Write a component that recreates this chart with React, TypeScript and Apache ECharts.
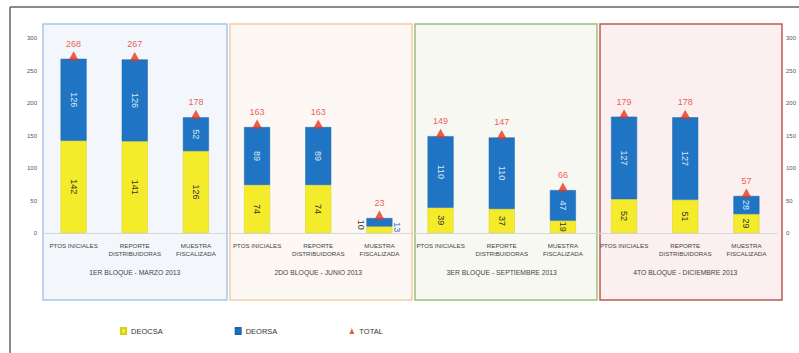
import React, { useEffect, useRef } from "react";
import * as echarts from "echarts";

const categories = [
  "PTOS INICIALES", "REPORTE\nDISTRIBUIDORAS", "MUESTRA\nFISCALIZADA",
  "PTOS INICIALES", "REPORTE\nDISTRIBUIDORAS", "MUESTRA\nFISCALIZADA",
  "PTOS INICIALES", "REPORTE\nDISTRIBUIDORAS", "MUESTRA\nFISCALIZADA",
  "PTOS INICIALES", "REPORTE\nDISTRIBUIDORAS", "MUESTRA\nFISCALIZADA",
];
const groups = [
  "1ER BLOQUE - MARZO 2013",
  "2DO BLOQUE - JUNIO 2013",
  "3ER BLOQUE - SEPTIEMBRE 2013",
  "4TO BLOQUE - DICIEMBRE 2013",
];
const deocsa = [142, 141, 126, 74, 74, 10, 39, 37, 19, 52, 51, 29];
const deorsa = [126, 126, 52, 89, 89, 13, 110, 110, 47, 127, 127, 28];
const total = [268, 267, 178, 163, 163, 23, 149, 147, 66, 179, 178, 57];

const FONT = "'Liberation Sans Narrow', 'Arial Narrow', 'Liberation Sans', sans-serif";

const panels = [
  { fill: "#f3f7fc", stroke: "#a8c6ea" },
  { fill: "#fdf8f3", stroke: "#f5cba9" },
  { fill: "#f7f8f2", stroke: "#9dbd7b" },
  { fill: "#fcefef", stroke: "#bd5a55" },
];

export default function App() {
  const ref = useRef<HTMLDivElement>(null);
  useEffect(() => {
    if (!ref.current) return;
    const chart = echarts.init(ref.current, undefined, { renderer: "svg" });
    const gridLeft = 43;
    const gridRight = 16;
    const panelW = (799 - gridLeft - gridRight) / 4;
    const graphics: any[] = panels.map((p, i) => ({
      type: "rect",
      z: -10,
      silent: true,
      shape: { x: gridLeft + i * panelW + (i === 0 ? 0 : 2), y: 24, width: panelW - (i === 0 ? 1 : 3), height: 276 },
      style: { fill: p.fill, stroke: p.stroke, lineWidth: 1.5 },
    }));
    graphics.push(
      { type: "line", z: -5, silent: true, shape: { x1: 10, y1: 7, x2: 799, y2: 7 }, style: { stroke: "#666", lineWidth: 1.5 } },
      { type: "line", z: -5, silent: true, shape: { x1: 10, y1: 7, x2: 10, y2: 353 }, style: { stroke: "#666", lineWidth: 1.5 } }
    );

    const deocsaData = deocsa.map((v, i) =>
      i === 5
        ? { value: v, label: { position: "left", distance: 5, rotate: -90, color: "#333" } }
        : v
    );
    const deorsaData = deorsa.map((v, i) =>
      i === 5
        ? { value: v, label: { position: "right", distance: 5, rotate: -90, color: "#1f75c4" } }
        : v
    );

    chart.setOption({
      animation: false,
      backgroundColor: "#ffffff",
      textStyle: { fontFamily: FONT },
      graphic: graphics,
      legend: {
        left: 115,
        top: 322,
        itemWidth: 5,
        itemHeight: 6,
        itemGap: 72,
        textStyle: { fontSize: 7.5, color: "#333", fontFamily: FONT },
        data: [
          { name: "DEOCSA", icon: "rect" },
          { name: "DEORSA", icon: "rect" },
          { name: "TOTAL", icon: "triangle" },
        ],
      },
      grid: { left: gridLeft, right: gridRight, top: 38, bottom: 120 },
      xAxis: [
        {
          type: "category",
          data: categories,
          axisLine: { lineStyle: { color: "#d6d6d6" } },
          axisTick: { interval: 0, length: 27, lineStyle: { color: "#d6d6d6" } },
          axisLabel: { interval: 0, fontSize: 6.2, lineHeight: 8, margin: 8, color: "#444", fontFamily: FONT },
        },
        {
          type: "category",
          position: "bottom",
          offset: 34,
          data: groups,
          axisLine: { show: false },
          axisTick: { show: false },
          axisLabel: { interval: 0, fontSize: 6.8, color: "#444", margin: 2, fontFamily: FONT },
        },
      ],
      yAxis: [
        {
          type: "value",
          min: 0,
          max: 300,
          interval: 50,
          axisLine: { show: false },
          axisTick: { show: false },
          splitLine: { show: false },
          axisLabel: { fontSize: 6, color: "#555", margin: 6, fontFamily: FONT },
        },
        {
          type: "value",
          min: 0,
          max: 300,
          interval: 50,
          position: "right",
          axisLine: { show: false },
          axisTick: { show: false },
          splitLine: { show: false },
          axisLabel: { fontSize: 6, color: "#555", margin: 9, fontFamily: FONT },
        },
      ],
      series: [
        {
          name: "DEOCSA",
          type: "bar",
          stack: "a",
          barWidth: 26,
          data: deocsaData,
          itemStyle: { color: "#f4ec2a", borderColor: "#d8cf1c", borderWidth: 0.5 },
          label: { show: true, position: "inside", rotate: -90, fontSize: 9, color: "#333", fontFamily: FONT },
        },
        {
          name: "DEORSA",
          type: "bar",
          stack: "a",
          barWidth: 26,
          data: deorsaData,
          itemStyle: { color: "#1f75c4", borderColor: "#1a66ad", borderWidth: 0.5 },
          label: { show: true, position: "inside", rotate: -90, fontSize: 9, color: "#dde8f4", fontFamily: FONT },
        },
        {
          name: "TOTAL",
          type: "scatter",
          data: total,
          symbol: "triangle",
          symbolSize: [10, 9],
          symbolOffset: [0, -3],
          z: 5,
          itemStyle: { color: "#e5361f" },
          label: { show: true, position: "top", distance: 3, fontSize: 9, color: "#e5362b", fontFamily: FONT },
        },
      ],
    });
    return () => chart.dispose();
  }, []);
  return (
    <div
      ref={ref}
      style={{ position: "absolute", left: 0, top: 0, width: 799, height: 353 }}
    />
  );
}
